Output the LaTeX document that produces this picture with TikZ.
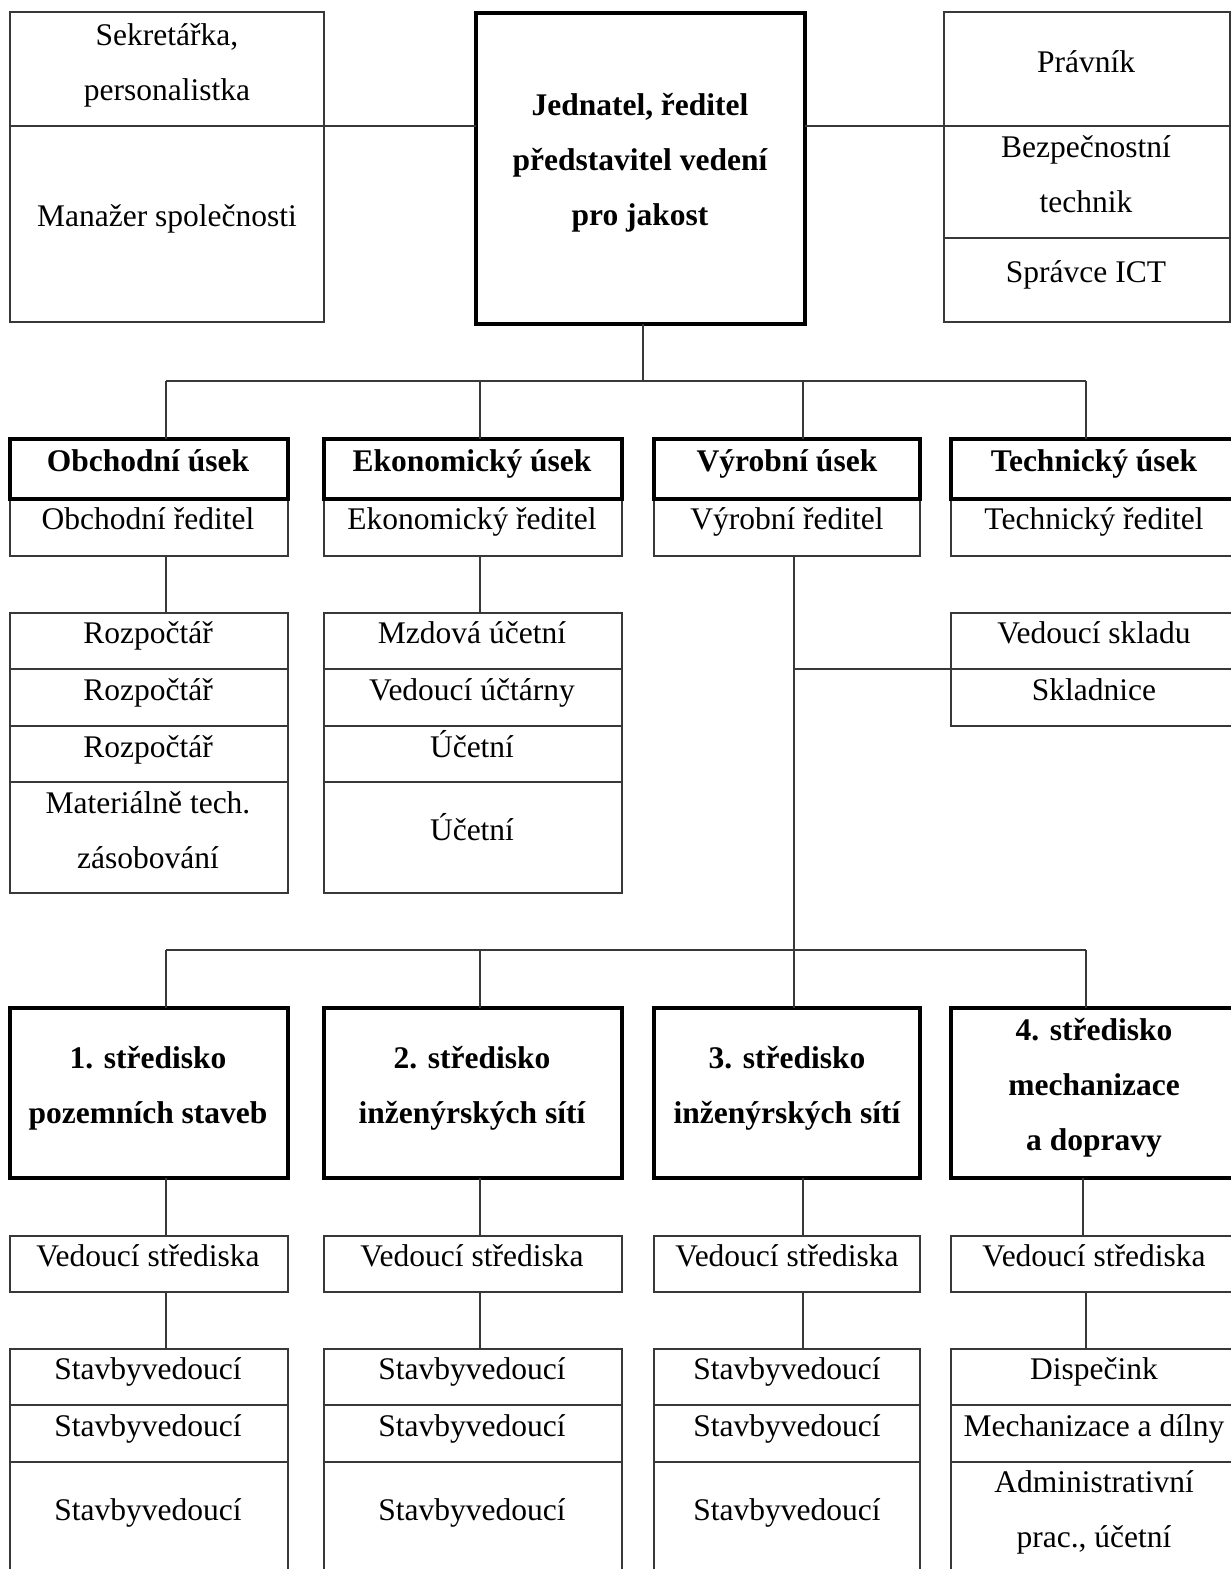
\documentclass[tikz,border=0pt]{standalone}
\usepackage{fontspec}
\setmainfont{Liberation Serif}
\definecolor{linec}{gray}{0.22}
\tikzset{
  cell/.style={draw=linec, line width=1.3pt, inner sep=0pt, outer sep=0pt, anchor=north west},
  thick box/.style={draw=black, line width=4pt},
  txtn/.style={anchor=base, inner sep=0pt, outer sep=0pt, font=\fontsize{31.5}{55}\selectfont},
  btxt/.style={font=\fontsize{31.5}{55}\selectfont\bfseries},
  conn/.style={draw=linec, line width=1.3pt}
}
% \rbox[style]{name}{x1}{y1}{x2}{y2}
\newcommand\rbox[6][]{\node[cell,#1,minimum width={#5-#3},minimum height={#6-#4}] (#2) at (#3,#4) {};}
% \tnode[style]{name}{x,baseline}{text}
\newcommand\tnode[4][]{\node[txtn,#1] (#2) at (#3) {\begin{tabular}[t]{@{}c@{}}#4\end{tabular}};}
\begin{document}
\begin{tikzpicture}[x=1pt,y=-1pt]
\useasboundingbox (0,0) rectangle (1231,1569);
\fill[white] (0,0) rectangle (1231,1569);

% ---------- top row ----------
\rbox{sek}{10}{12}{324}{126}
\rbox{man}{10}{126}{324}{322}
\rbox[thick box]{ceo}{476}{13}{805}{324}
\rbox{prav}{944}{12}{1230}{126}
\rbox{bezp}{944}{126}{1230}{238}
\rbox{ict}{944}{238}{1230}{322}

\tnode{tsek}{167,45}{Sekretářka,\\personalistka}
\tnode{tman}{167,226}{Manažer společnosti}
\tnode[btxt]{tceo}{640,115}{Jednatel, ředitel\\představitel vedení\\pro jakost}
\tnode{tprav}{1086,72}{Právník}
\tnode{tbezp}{1086,157}{Bezpečnostní\\technik}
\tnode{tict}{1086,282}{Správce ICT}

\draw[conn] (sek.south east) -- (sek.south east -| ceo.west);
\draw[conn] (ceo.east |- prav.south) -- (prav.south west);

% ---------- divisions ----------
\rbox{d1s}{10}{499}{288}{556}
\rbox{d2s}{324}{499}{622}{556}
\rbox{d3s}{654}{499}{920}{556}
\rbox{d4s}{951}{499}{1240}{556}
\rbox[thick box]{d1}{10}{439}{288}{499}
\rbox[thick box]{d2}{324}{439}{622}{499}
\rbox[thick box]{d3}{654}{439}{920}{499}
\rbox[thick box]{d4}{951}{439}{1240}{499}

\tnode[btxt]{td1}{148,471}{Obchodní úsek}
\tnode[btxt]{td2}{472,471}{Ekonomický úsek}
\tnode[btxt]{td3}{787,471}{Výrobní úsek}
\tnode[btxt]{td4}{1094,471}{Technický úsek}
\tnode{td1s}{148,529}{Obchodní ředitel}
\tnode{td2s}{472,529}{Ekonomický ředitel}
\tnode{td3s}{787,529}{Výrobní ředitel}
\tnode{td4s}{1094,529}{Technický ředitel}

\coordinate (cs) at (643,381);
\coordinate (b1) at (166,381);
\coordinate (b2) at (480,381);
\coordinate (b3) at (803,381);
\coordinate (b4) at (1086,381);
\draw[conn] (cs |- ceo.south) -- (cs);
\draw[conn] (b1) -- (b4);
\draw[conn] (b1) -- (b1 |- d1.north);
\draw[conn] (b2) -- (b2 |- d2.north);
\draw[conn] (b3) -- (b3 |- d3.north);
\draw[conn] (b4) -- (b4 |- d4.north);

% ---------- lists under divisions ----------
\rbox{o1}{10}{613}{288}{669}
\rbox{o2}{10}{669}{288}{726}
\rbox{o3}{10}{726}{288}{782}
\rbox{o4}{10}{782}{288}{893}
\tnode{to1}{148,643}{Rozpočtář}
\tnode{to2}{148,700}{Rozpočtář}
\tnode{to3}{148,757}{Rozpočtář}
\tnode{to4}{148,813}{Materiálně tech.\\zásobování}

\rbox{e1}{324}{613}{622}{669}
\rbox{e2}{324}{669}{622}{726}
\rbox{e3}{324}{726}{622}{782}
\rbox{e4}{324}{782}{622}{893}
\tnode{te1}{472,643}{Mzdová účetní}
\tnode{te2}{472,700}{Vedoucí účtárny}
\tnode{te3}{472,757}{Účetní}
\tnode{te4}{472,840}{Účetní}

\rbox{k1}{951}{613}{1240}{669}
\rbox{k2}{951}{669}{1240}{726}
\tnode{tk1}{1094,643}{Vedoucí skladu}
\tnode{tk2}{1094,700}{Skladnice}

\draw[conn] (d1s.south -| b1) -- (b1 |- o1.north);
\draw[conn] (d2s.south -| b2) -- (b2 |- e1.north);

\coordinate (v) at (794,950);
\draw[conn] (d3s.south -| v) -- (v);
\draw[conn] (v |- k2.north) -- (k2.north west);

% ---------- centres ----------
\rbox[thick box]{s1}{10}{1008}{288}{1178}
\rbox[thick box]{s2}{324}{1008}{622}{1178}
\rbox[thick box]{s3}{654}{1008}{920}{1178}
\rbox[thick box]{s4}{951}{1008}{1240}{1178}
\tnode[btxt]{ts1}{148,1068}{1. středisko\\pozemních staveb}
\tnode[btxt]{ts2}{472,1068}{2. středisko\\inženýrských sítí}
\tnode[btxt]{ts3}{787,1068}{3. středisko\\inženýrských sítí}
\tnode[btxt]{ts4}{1094,1040}{4. středisko\\mechanizace\\a dopravy}

\coordinate (l1) at (166,950);
\coordinate (l2) at (480,950);
\coordinate (l4) at (1086,950);
\draw[conn] (l1) -- (l4);
\draw[conn] (l1) -- (l1 |- s1.north);
\draw[conn] (l2) -- (l2 |- s2.north);
\draw[conn] (v) -- (v |- s3.north);
\draw[conn] (l4) -- (l4 |- s4.north);

\rbox{v1}{10}{1236}{288}{1292}
\rbox{v2}{324}{1236}{622}{1292}
\rbox{v3}{654}{1236}{920}{1292}
\rbox{v4}{951}{1236}{1240}{1292}
\tnode{tv1}{148,1266}{Vedoucí střediska}
\tnode{tv2}{472,1266}{Vedoucí střediska}
\tnode{tv3}{787,1266}{Vedoucí střediska}
\tnode{tv4}{1094,1266}{Vedoucí střediska}

\coordinate (c1) at (166,0);
\coordinate (c2) at (480,0);
\coordinate (c3) at (803,0);
\coordinate (c4a) at (1083,0);
\coordinate (c4b) at (1086,0);
\draw[conn] (s1.south -| c1) -- (v1.north -| c1);
\draw[conn] (s2.south -| c2) -- (v2.north -| c2);
\draw[conn] (s3.south -| c3) -- (v3.north -| c3);
\draw[conn] (s4.south -| c4a) -- (v4.north -| c4a);

% ---------- lists under centres ----------
\rbox{p1}{10}{1349}{288}{1405}
\rbox{p2}{10}{1405}{288}{1462}
\rbox{p3}{10}{1462}{288}{1580}
\rbox{q1}{324}{1349}{622}{1405}
\rbox{q2}{324}{1405}{622}{1462}
\rbox{q3}{324}{1462}{622}{1580}
\rbox{r1}{654}{1349}{920}{1405}
\rbox{r2}{654}{1405}{920}{1462}
\rbox{r3}{654}{1462}{920}{1580}
\rbox{w1}{951}{1349}{1240}{1405}
\rbox{w2}{951}{1405}{1240}{1462}
\rbox{w3}{951}{1462}{1240}{1580}

\tnode{tp1}{148,1379}{Stavbyvedoucí}
\tnode{tp2}{148,1436}{Stavbyvedoucí}
\tnode{tp3}{148,1520}{Stavbyvedoucí}
\tnode{tq1}{472,1379}{Stavbyvedoucí}
\tnode{tq2}{472,1436}{Stavbyvedoucí}
\tnode{tq3}{472,1520}{Stavbyvedoucí}
\tnode{tr1}{787,1379}{Stavbyvedoucí}
\tnode{tr2}{787,1436}{Stavbyvedoucí}
\tnode{tr3}{787,1520}{Stavbyvedoucí}
\tnode{tw1}{1094,1379}{Dispečink}
\tnode{tw2}{1094,1436}{Mechanizace a dílny}
\tnode{tw3}{1094,1492}{Administrativní\\prac., účetní}

\draw[conn] (v1.south -| c1) -- (p1.north -| c1);
\draw[conn] (v2.south -| c2) -- (q1.north -| c2);
\draw[conn] (v3.south -| c3) -- (r1.north -| c3);
\draw[conn] (v4.south -| c4b) -- (w1.north -| c4b);
\end{tikzpicture}
\end{document}
